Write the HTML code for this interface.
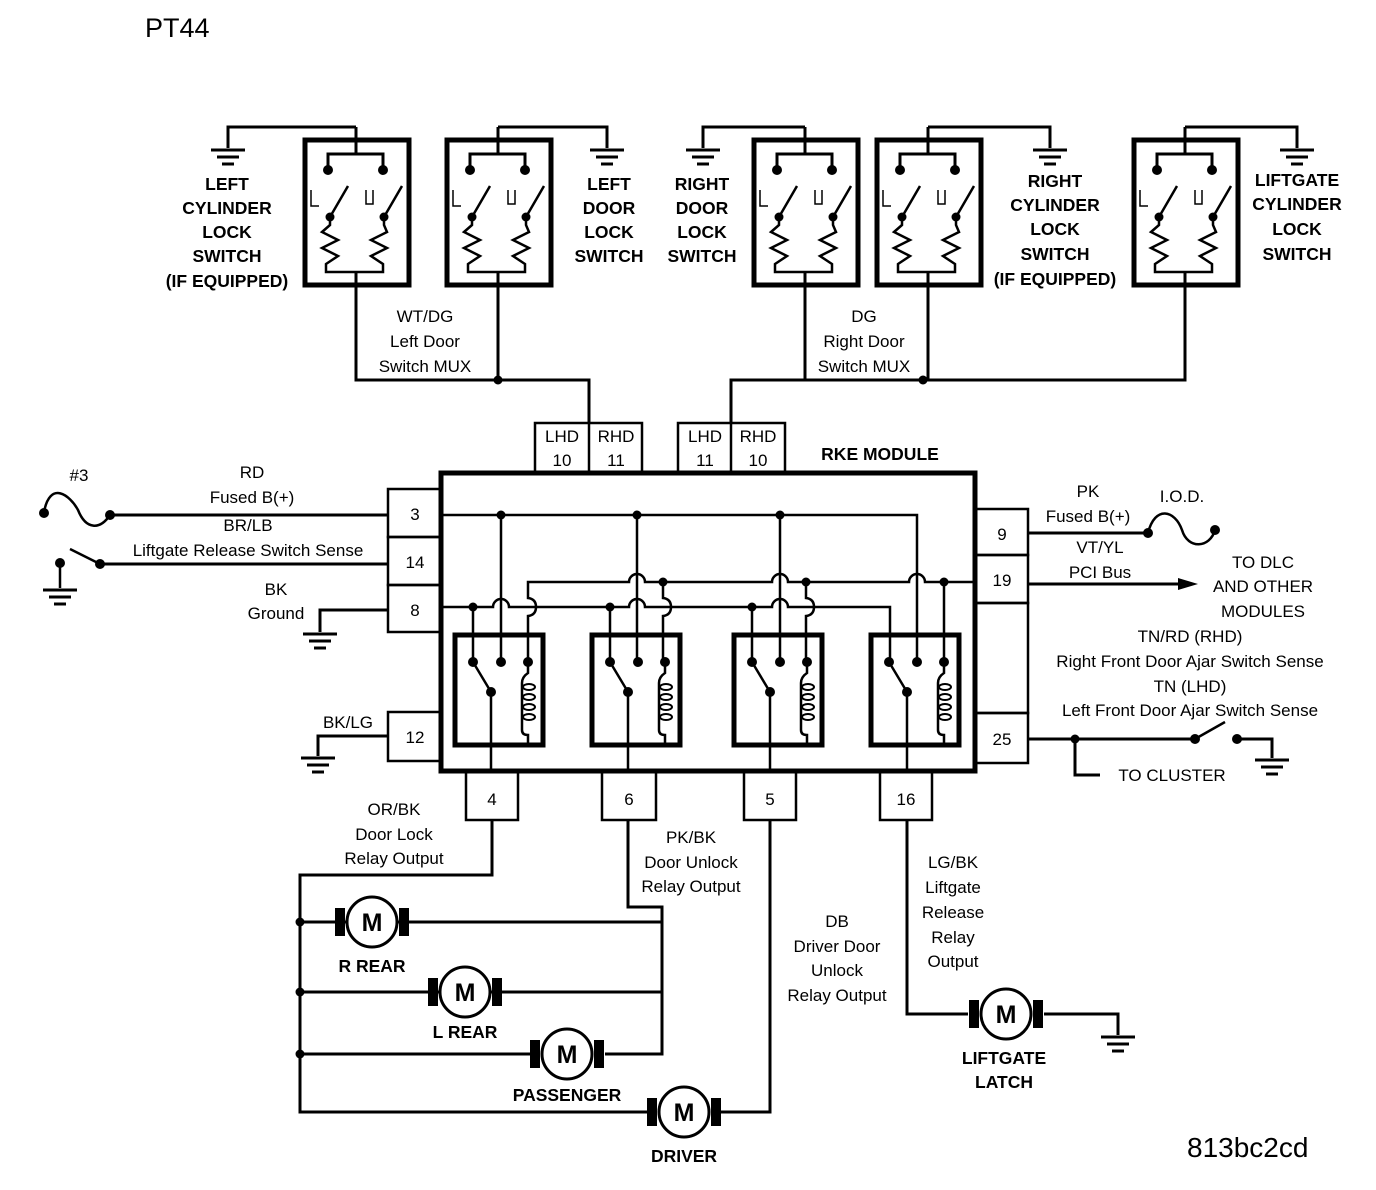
<!DOCTYPE html>
<html><head><meta charset="utf-8"><style>
html,body{margin:0;padding:0;background:#fff}
svg{display:block}
text{font-family:"Liberation Sans",Arial,sans-serif;fill:#000}
.b{font-weight:bold;font-size:17.5px}
.n{font-size:17px}
</style></head><body>
<svg width="1376" height="1190" viewBox="0 0 1376 1190" xmlns="http://www.w3.org/2000/svg">
<defs>
<g id="sw" fill="none" stroke="#000" stroke-width="3">
  <rect x="-51" y="0" width="104" height="145" stroke-width="5"/>
  <path d="M0 -13 V14 M-28 30 V14 H27 V30"/>
  <path d="M-26 77 L-8 46 M28 77 L46 46" stroke-width="2.5"/>
  <path d="M-26 77 V85 L-34 92 L-18 100 L-34 108 L-18 116 L-30 124 V132 H27 V124 L15 116 L31 108 L15 100 L31 92 L28 85 V77" stroke-width="2.5"/>
  <path d="M0 132 V145"/>
  <circle cx="-28" cy="30" r="5" fill="#000" stroke="none"/>
  <circle cx="27" cy="30" r="5" fill="#000" stroke="none"/>
  <circle cx="-26" cy="77" r="4.5" fill="#000" stroke="none"/>
  <circle cx="28" cy="77" r="4.5" fill="#000" stroke="none"/>
  <path d="M-45 50 V66 H-37 M10 50 V64 H17 V50" stroke-width="1.5"/>
</g>
<g id="rl" fill="none" stroke="#000">
  <rect x="0" y="0" width="88" height="110" stroke-width="5"/>
  <path d="M18 27 L36 57 M73 27 V38 Q67 42 67 48 V95 Q67 100 73 100 V110" stroke-width="2.5"/>
  <g stroke-width="2"><ellipse cx="74" cy="52" rx="6" ry="3"/><ellipse cx="74" cy="62" rx="6" ry="3"/><ellipse cx="74" cy="72" rx="6" ry="3"/><ellipse cx="74" cy="82" rx="6" ry="3"/></g>
  <circle cx="18" cy="27" r="5" fill="#000" stroke="none"/>
  <circle cx="46" cy="27" r="5" fill="#000" stroke="none"/>
  <circle cx="73" cy="27" r="5" fill="#000" stroke="none"/>
  <circle cx="36" cy="57" r="5" fill="#000" stroke="none"/>
</g>
<g id="mo">
  <rect x="-37" y="-14" width="10" height="28" fill="#000"/>
  <rect x="27" y="-14" width="10" height="28" fill="#000"/>
  <circle cx="0" cy="0" r="25" fill="#fff" stroke="#000" stroke-width="3"/>
  <text x="0" y="9" text-anchor="middle" font-weight="bold" font-size="25">M</text>
</g>
<g id="gnd" stroke="#000" stroke-width="3"><path d="M-17 0 H17 M-11 7 H11 M-6 14 H6"/></g>
</defs>

<text x="145" y="37" font-size="27">PT44</text>
<text x="1187" y="1157" font-size="28">813bc2cd</text>

<use href="#sw" x="356" y="140"/>
<use href="#sw" x="498" y="140"/>
<use href="#sw" x="805" y="140"/>
<use href="#sw" x="928" y="140"/>
<use href="#sw" x="1185" y="140"/>

<g fill="none" stroke="#000" stroke-width="3">
  <path d="M356 127 H228 V148"/><path d="M498 127 H607 V148"/>
  <path d="M805 127 H703 V148"/><path d="M928 127 H1050 V148"/>
  <path d="M1185 127 H1297 V148"/>
  <path d="M356 285 V380 H589 V423"/><path d="M498 285 V380"/>
  <path d="M805 285 V380 M1185 285 V380 H731 V423"/><path d="M928 285 V380"/>

  <rect x="441" y="473" width="534" height="298" stroke-width="5"/>
  <rect x="535" y="423" width="107" height="49" stroke-width="2.5"/><path d="M589 423 V472" stroke-width="2.5"/>
  <rect x="678" y="423" width="107" height="49" stroke-width="2.5"/><path d="M731 423 V472" stroke-width="2.5"/>
  <g stroke-width="2.5">
  <rect x="388" y="489" width="53" height="48"/><rect x="388" y="537" width="53" height="48"/><rect x="388" y="585" width="53" height="47"/>
  <rect x="388" y="712" width="53" height="49"/>
  <rect x="975" y="509" width="53" height="46"/><rect x="975" y="555" width="53" height="48"/><rect x="975" y="603" width="53" height="110"/><rect x="975" y="713" width="53" height="50"/>
  <rect x="466" y="772" width="52" height="48"/><rect x="602" y="772" width="54" height="48"/><rect x="744" y="772" width="52" height="48"/><rect x="880" y="772" width="52" height="48"/>
  </g>
</g>
<use href="#gnd" x="228" y="150"/><use href="#gnd" x="607" y="150"/><use href="#gnd" x="703" y="150"/><use href="#gnd" x="1050" y="150"/><use href="#gnd" x="1297" y="150"/>
<g fill="#000"><circle cx="498" cy="380" r="4.5"/><circle cx="923" cy="380" r="4.5"/></g>

<g fill="none" stroke="#000" stroke-width="2.5">
  <path d="M443 515 H917 V662"/>
  <path d="M501 515 V662 M637 515 V662 M780 515 V662"/>
  <path d="M443 607 H493 a8 8 0 0 1 16 0 H629 a8 8 0 0 1 16 0 H772 a8 8 0 0 1 16 0 H890 V662"/>
  <path d="M473 607 V662 M610 607 V662 M752 607 V662"/>
  <path d="M975 582 H925 a8 8 0 0 0 -16 0 H788 a8 8 0 0 0 -16 0 H645 a8 8 0 0 0 -16 0 H528 V598 q8 1 8 9 q0 8 -8 9 V662"/>
  <path d="M663 582 V598 q8 1 8 9 q0 8 -8 9 V662 M806 582 V598 q8 1 8 9 q0 8 -8 9 V662 M944 582 V662"/>
  <path d="M491 692 V772 M628 692 V772 M770 692 V772 M907 692 V772"/>
</g>
<g fill="#000">
<circle cx="501" cy="515" r="4.5"/><circle cx="637" cy="515" r="4.5"/><circle cx="780" cy="515" r="4.5"/>
<circle cx="473" cy="607" r="4.5"/><circle cx="610" cy="607" r="4.5"/><circle cx="752" cy="607" r="4.5"/>
<circle cx="663" cy="582" r="4.5"/><circle cx="806" cy="582" r="4.5"/><circle cx="944" cy="582" r="4.5"/>
</g>
<use href="#rl" x="455" y="635"/><use href="#rl" x="592" y="635"/><use href="#rl" x="734" y="635"/><use href="#rl" x="871" y="635"/>

<g fill="none" stroke="#000" stroke-width="3">
  <path d="M110 515 H388 M100 564 H388 M388 610 H320 V632 M388 736 H318 V756"/>
  <path d="M44 512 C50 480 70 495 78 510 C86 530 100 530 110 515" stroke-width="2.5"/>
  <path d="M60 563 V588 M70 549 L100 564" stroke-width="2.5"/>
  <path d="M1028 533 H1148 M1028 584 H1185 M1028 739 H1195 M1237 739 H1272 V758 M1075 739 V775 H1100"/>
  <path d="M1148 533 C1155 505 1175 510 1182 530 C1188 550 1210 548 1215 530" stroke-width="2.5"/>
  <path d="M1195 739 L1225 722" stroke-width="2.5"/>
  <path d="M492 820 V875 H300 V1112 H650 M720 1112 H770 V820"/>
  <path d="M628 820 V907 H662 V1054 H605 M530 1054 H300 M300 922 H662 M300 992 H662"/>
  <path d="M907 820 V1014 H968 M1044 1014 H1118 V1035"/>
</g>
<path d="M1198 584 L1178 578 L1178 590 Z" fill="#000"/>
<g fill="#000">
<circle cx="44" cy="513" r="5"/><circle cx="110" cy="515" r="5"/><circle cx="60" cy="563" r="5"/><circle cx="100" cy="564" r="5"/>
<circle cx="1148" cy="533" r="5"/><circle cx="1215" cy="530" r="5"/><circle cx="1075" cy="739" r="4.5"/><circle cx="1195" cy="739" r="5"/><circle cx="1237" cy="739" r="5"/>
<circle cx="300" cy="922" r="4.5"/><circle cx="300" cy="992" r="4.5"/><circle cx="300" cy="1054" r="4.5"/>
</g>
<use href="#gnd" x="60" y="590"/><use href="#gnd" x="320" y="634"/><use href="#gnd" x="318" y="758"/><use href="#gnd" x="1272" y="760"/><use href="#gnd" x="1118" y="1037"/>

<use href="#mo" x="372" y="922"/><use href="#mo" x="465" y="992"/><use href="#mo" x="567" y="1054"/><use href="#mo" x="684" y="1112"/><use href="#mo" x="1006" y="1014"/>

<g class="b" text-anchor="middle">
<text x="227" y="190">LEFT</text><text x="227" y="214">CYLINDER</text><text x="227" y="238">LOCK</text><text x="227" y="262">SWITCH</text><text x="227" y="287">(IF EQUIPPED)</text>
<text x="609" y="190">LEFT</text><text x="609" y="214">DOOR</text><text x="609" y="238">LOCK</text><text x="609" y="262">SWITCH</text>
<text x="702" y="190">RIGHT</text><text x="702" y="214">DOOR</text><text x="702" y="238">LOCK</text><text x="702" y="262">SWITCH</text>
<text x="1055" y="187">RIGHT</text><text x="1055" y="211">CYLINDER</text><text x="1055" y="235">LOCK</text><text x="1055" y="260">SWITCH</text><text x="1055" y="285">(IF EQUIPPED)</text>
<text x="1297" y="186">LIFTGATE</text><text x="1297" y="210">CYLINDER</text><text x="1297" y="235">LOCK</text><text x="1297" y="260">SWITCH</text>
<text x="880" y="460">RKE MODULE</text>
<text x="372" y="972">R REAR</text><text x="465" y="1038">L REAR</text><text x="567" y="1101">PASSENGER</text><text x="684" y="1162">DRIVER</text>
<text x="1004" y="1064">LIFTGATE</text><text x="1004" y="1088">LATCH</text>
</g>
<g class="n" text-anchor="middle">
<text x="425" y="322">WT/DG</text><text x="425" y="347">Left Door</text><text x="425" y="372">Switch MUX</text>
<text x="864" y="322">DG</text><text x="864" y="347">Right Door</text><text x="864" y="372">Switch MUX</text>
<text x="562" y="442">LHD</text><text x="562" y="466">10</text><text x="616" y="442">RHD</text><text x="616" y="466">11</text>
<text x="705" y="442">LHD</text><text x="705" y="466">11</text><text x="758" y="442">RHD</text><text x="758" y="466">10</text>
<text x="415" y="520">3</text><text x="415" y="568">14</text><text x="415" y="616">8</text><text x="415" y="743">12</text>
<text x="1002" y="540">9</text><text x="1002" y="586">19</text><text x="1002" y="745">25</text>
<text x="492" y="805">4</text><text x="629" y="805">6</text><text x="770" y="805">5</text><text x="906" y="805">16</text>
<text x="79" y="481">#3</text>
<text x="252" y="478">RD</text><text x="252" y="503">Fused B(+)</text><text x="248" y="531">BR/LB</text>
<text x="248" y="556">Liftgate Release Switch Sense</text>
<text x="276" y="595">BK</text><text x="276" y="619">Ground</text>
<text x="348" y="728">BK/LG</text>
<text x="1088" y="497">PK</text><text x="1182" y="502">I.O.D.</text><text x="1088" y="522">Fused B(+)</text>
<text x="1100" y="553">VT/YL</text><text x="1100" y="578">PCI Bus</text>
<text x="1263" y="568">TO DLC</text><text x="1263" y="592">AND OTHER</text><text x="1263" y="617">MODULES</text>
<text x="1190" y="642">TN/RD (RHD)</text><text x="1190" y="667">Right Front Door Ajar Switch Sense</text>
<text x="1190" y="692">TN (LHD)</text><text x="1190" y="716">Left Front Door Ajar Switch Sense</text>
<text x="1172" y="781">TO CLUSTER</text>
<text x="394" y="815">OR/BK</text><text x="394" y="840">Door Lock</text><text x="394" y="864">Relay Output</text>
<text x="691" y="843">PK/BK</text><text x="691" y="868">Door Unlock</text><text x="691" y="892">Relay Output</text>
<text x="837" y="927">DB</text><text x="837" y="952">Driver Door</text><text x="837" y="976">Unlock</text><text x="837" y="1001">Relay Output</text>
<text x="953" y="868">LG/BK</text><text x="953" y="893">Liftgate</text><text x="953" y="918">Release</text><text x="953" y="943">Relay</text><text x="953" y="967">Output</text>
</g>
</svg>
</body></html>
